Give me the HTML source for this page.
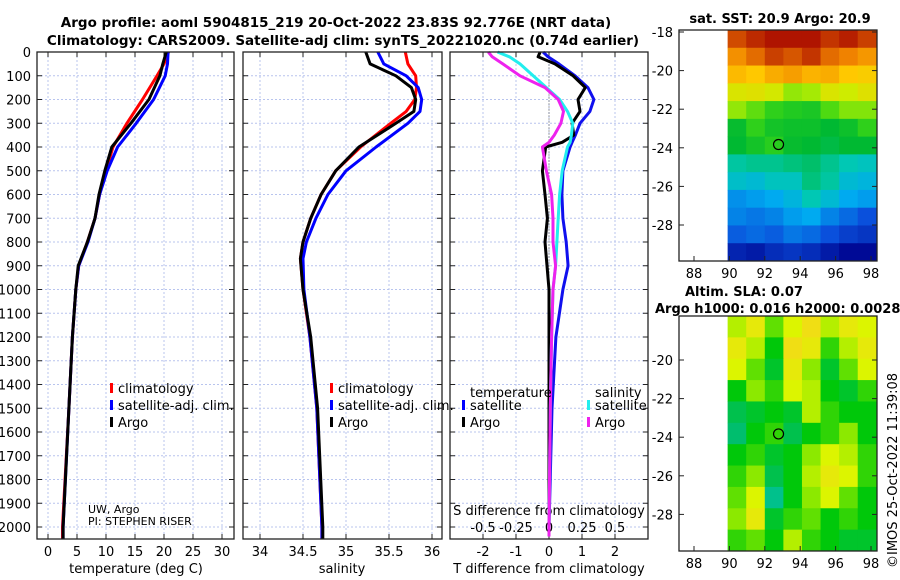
<!DOCTYPE html>
<html><head><meta charset="utf-8"><style>
html,body{margin:0;padding:0;background:#fff;}
svg{display:block;font-family:"DejaVu Sans","Liberation Sans",sans-serif;}
</style></head><body>
<svg id="c" width="900" height="580" viewBox="0 0 900 580">
<text x="336" y="27" font-size="13.5" font-weight="bold" text-anchor="middle">Argo profile: aoml 5904815_219 20-Oct-2022 23.83S 92.776E (NRT data)</text>
<text x="343" y="45" font-size="13.5" font-weight="bold" text-anchor="middle">Climatology: CARS2009. Satellite-adj clim: synTS_20221020.nc (0.74d earlier)</text>
<text x="780" y="23" font-size="13" font-weight="bold" text-anchor="middle">sat. SST: 20.9  Argo: 20.9</text>
<text x="685" y="296" font-size="13" font-weight="bold">Altim. SLA: 0.07</text>
<text x="655" y="313" font-size="13" font-weight="bold">Argo h1000: 0.016 h2000: 0.0028</text>
<text transform="translate(897,568) rotate(-90)" font-size="13">©IMOS 25-Oct-2022 11:39:08</text>
</svg>
<script>
// ---- data ----
const depthTicks=[0,100,200,300,400,500,600,700,800,900,1000,1100,1200,1300,1400,1500,1600,1700,1800,1900,2000];
const tTicks=[0,5,10,15,20,25,30];
const sTicks=[34,34.5,35,35.5,36];
const sTickLabels=["34","34.5","35","35.5","36"];
const dTTicks=[-2,-1,0,1,2];
const dSTicks=[-0.5,-0.25,0,0.25,0.5];
const dSTickLabels=["-0.5","-0.25","0","0.25","0.5"];

const tDepth=[0,50,100,200,300,400,500,600,700,800,900,1000,1200,1500,2000,2050];
const tClim=[20.8,20.0,18.8,16.3,13.6,11.2,10.0,8.9,8.1,6.8,5.3,4.8,4.2,3.6,2.5,2.5];
const tSat =[20.7,20.6,20.2,18.2,15.2,12.0,10.2,8.9,8.1,6.9,5.3,4.8,4.2,3.6,2.6,2.6];
const tArgo=[20.4,19.8,19.3,17.4,14.3,11.0,9.8,8.8,8.1,6.8,5.2,4.8,4.2,3.6,2.6,2.6];

const sDepth=[0,50,100,150,200,250,300,400,500,600,700,800,870,1000,1200,1500,2000,2050];
const sClim=[35.69,35.72,35.81,35.82,35.80,35.70,35.52,35.17,34.88,34.71,34.59,34.50,34.47,34.50,34.58,34.66,34.72,34.72];
const sSat =[35.37,35.44,35.70,35.84,35.88,35.86,35.72,35.35,35.00,34.79,34.65,34.54,34.50,34.51,34.58,34.66,34.72,34.72];
const sArgo=[35.23,35.28,35.58,35.76,35.81,35.79,35.58,35.15,34.88,34.71,34.59,34.50,34.47,34.50,34.59,34.67,34.73,34.73];

const dDepth=[0,20,50,100,150,200,250,300,350,380,400,500,600,700,800,900,1000,1200,1500,2000,2040];
const dTArgo=[-0.27,-0.33,0.18,0.73,1.10,0.88,0.94,0.70,0.75,0.40,-0.10,-0.20,-0.12,-0.05,-0.12,-0.06,0.0,0.0,0.0,0.0,0.0];
const dTSat =[-0.18,-0.03,0.30,0.79,1.18,1.36,1.24,0.94,0.80,0.70,0.64,0.42,0.39,0.42,0.52,0.58,0.42,0.21,0.09,0.0,0.0];
const dSSat =[-0.39,-0.30,-0.22,-0.12,-0.02,0.08,0.14,0.18,0.17,0.16,0.14,0.10,0.08,0.07,0.06,0.05,0.03,0.02,0.01,0.0,0.0];
const dSArgo=[-0.46,-0.43,-0.35,-0.22,-0.03,0.07,0.11,0.09,0.04,0.0,-0.05,-0.02,0.02,0.03,0.03,0.05,0.03,0.02,0.01,0.0,0.0];

const lonTicks=[88,90,92,94,96,98];
const sstLatTicks=[-18,-20,-22,-24,-26,-28];
const slaLatTicks=[-20,-22,-24,-26,-28];
const sstGrid=[
[24.5,24.8,25.2,25.6,25.0,24.7,24.9,24.6],
[23.8,24.2,24.6,24.4,24.7,24.2,24.0,23.7],
[23.2,23.0,23.4,23.6,23.3,23.4,23.0,22.9],
[22.3,22.4,22.2,21.7,21.8,22.3,22.1,22.4],
[21.7,21.4,21.0,20.8,20.7,21.3,21.6,21.6],
[20.4,21.0,20.6,20.5,20.5,20.3,20.5,21.0],
[20.3,20.6,20.9,20.4,20.3,20.2,20.3,20.3],
[19.7,19.8,19.8,19.9,20.0,19.8,19.6,19.5],
[19.4,19.3,19.5,19.5,19.9,19.7,19.3,19.2],
[18.8,18.9,19.0,19.2,19.6,19.3,19.0,18.9],
[18.7,18.6,18.7,18.9,19.0,18.7,18.5,18.3],
[18.4,18.5,18.4,18.6,18.5,18.3,18.1,18.0],
[17.8,17.7,17.9,18.0,17.9,17.7,17.5,17.4]];
const slaGrid=[
[0.10,0.12,0.08,0.11,0.13,0.10,0.12,0.11],
[0.12,0.10,0.06,0.13,0.12,0.07,0.10,0.12],
[0.11,0.08,0.05,0.12,0.09,0.05,0.08,0.11],
[0.06,0.09,0.07,0.11,0.10,0.06,0.05,0.07],
[0.04,0.05,0.06,0.05,0.10,0.07,0.06,0.06],
[0.03,0.06,0.07,0.04,0.06,0.07,0.09,0.06],
[0.06,0.07,0.05,0.06,0.09,0.11,0.10,0.07],
[0.07,0.09,0.04,0.06,0.10,0.12,0.11,0.07],
[0.08,0.11,0.02,0.06,0.09,0.11,0.08,0.06],
[0.09,0.12,0.05,0.07,0.08,0.06,0.07,0.06],
[0.07,0.08,0.06,0.10,0.07,0.06,0.05,0.05]];

// ---- drawing ----
const NS='http://www.w3.org/2000/svg', svg=document.getElementById('c');
function mk(t,a,p){const e=document.createElementNS(NS,t);for(const k in a)e.setAttribute(k,a[k]);(p||svg).appendChild(e);return e;}
const Y0=52,Y1=539;
const yD=d=>Y0+d*(527-52)/2000;
const panels=[
 {x0:37,x1:234,sx:v=>48+v*5.8},
 {x0:243,x1:442,sx:v=>346+(v-35)*86},
 {x0:450,x1:648,sx:v=>549+v*33}];
const sxS=v=>549+v*132;

function grid(p,xt,sx){
 xt.forEach(v=>{const l=mk('line',{x1:sx(v),x2:sx(v),y1:Y0,y2:Y1,stroke:'#b8c4ee','stroke-width':1,'stroke-dasharray':'2,2'});
 });
 depthTicks.forEach(d=>{const l=mk('line',{x1:p.x0,x2:p.x1,y1:yD(d),y2:yD(d),stroke:'#b8c4ee','stroke-width':1,'stroke-dasharray':'2,2'});
 
 [[p.x0,p.x0+5],[p.x1-5,p.x1]].forEach(s=>{const t=mk('line',{x1:s[0],x2:s[1],y1:yD(d),y2:yD(d),stroke:'#222'});
 });});
 xt.forEach(v=>{[[Y0,Y0+5],[Y1-5,Y1]].forEach(s=>{const t=mk('line',{x1:sx(v),x2:sx(v),y1:s[0],y2:s[1],stroke:'#222'});
 });});
}
function frame(p,name){const r=mk('rect',{x:p.x0,y:Y0,width:p.x1-p.x0,height:Y1-Y0,fill:'none',stroke:'#222','stroke-width':1.3});
 }
function line(xs,ds,sx,col,name,w){
 const pts=xs.map((v,i)=>sx(v).toFixed(1)+','+yD(ds[i]).toFixed(1)).join(' ');
 const l=mk('polyline',{points:pts,fill:'none',stroke:col,'stroke-width':w||3,'stroke-linejoin':'round'});
 }
function txt(x,y,s,o,name){const t=mk('text',Object.assign({x:x,y:y,'font-size':13},o||{}));t.textContent=s;
 return t;}

panels.forEach((p,i)=>grid(p,[tTicks,sTicks,dTTicks][i],p.sx));
depthTicks.forEach(d=>txt(31,yD(d)+5,String(d),{'text-anchor':'end'},'depth-tick-label'));
tTicks.forEach(v=>txt(panels[0].sx(v),556,String(v),{'text-anchor':'middle'},'temp-tick-label'));
sTicks.forEach((v,i)=>txt(panels[1].sx(v),556,sTickLabels[i],{'text-anchor':'middle'},'sal-tick-label'));
dTTicks.forEach(v=>txt(panels[2].sx(v),556,String(v),{'text-anchor':'middle'},'tdiff-tick-label'));
dSTicks.forEach((v,i)=>txt(sxS(v),532,dSTickLabels[i],{'text-anchor':'middle'},'sdiff-tick-label'));
txt(136,573,'temperature (deg C)',{'text-anchor':'middle'},'temp-axis-title');
txt(342,573,'salinity',{'text-anchor':'middle'},'sal-axis-title');
txt(549,573,'T difference from climatology',{'text-anchor':'middle'},'tdiff-axis-title');
txt(549,515,'S difference from climatology',{'text-anchor':'middle'},'sdiff-axis-title');
const z=mk('line',{x1:549,x2:549,y1:yD(40),y2:Y1,stroke:'#555','stroke-dasharray':'1,2'});


line(tClim,tDepth,panels[0].sx,'#f00','temp-climatology-line');
line(tSat,tDepth,panels[0].sx,'#0000ff','temp-satellite-line');
line(tArgo,tDepth,panels[0].sx,'#000','temp-argo-line');
line(sClim,sDepth,panels[1].sx,'#f00','sal-climatology-line');
line(sSat,sDepth,panels[1].sx,'#0000ff','sal-satellite-line');
line(sArgo,sDepth,panels[1].sx,'#000','sal-argo-line');
line(dTSat,dDepth,panels[2].sx,'#1010ee','tdiff-satellite-line');
line(dTArgo,dDepth,panels[2].sx,'#000','tdiff-argo-line');
line(dSSat,dDepth,sxS,'#22eeee','sdiff-satellite-line');
line(dSArgo,dDepth,sxS,'#ee22ee','sdiff-argo-line');
panels.forEach((p,i)=>frame(p,['temperature-panel','salinity-panel','difference-panel'][i]));

function legend(x,y,items,pre){items.forEach((it,i)=>{
 const r=mk('rect',{x:x,y:y+i*17-9,width:3,height:10,fill:it[1]});
 
 txt(x+8,y+i*17+1,it[0],{},pre+'-legend-label');});}
legend(110,392,[['climatology','#f00'],['satellite-adj. clim.','#00f'],['Argo','#000']],'temp');
legend(330,392,[['climatology','#f00'],['satellite-adj. clim.','#00f'],['Argo','#000']],'sal');
txt(470,397,'temperature',{},'tdiff-legend-header');
txt(595,397,'salinity',{},'sdiff-legend-header');
legend(462,409,[['satellite','#00f'],['Argo','#000']],'tdiff');
legend(587,409,[['satellite','#2ee'],['Argo','#e2e']],'sdiff');
txt(88,513,'UW, Argo',{'font-size':11},'pi-institution');
txt(88,525,'PI: STEPHEN RISER',{'font-size':11},'pi-name');

// ---- maps ----
function interp(st,v){
 if(v<=st[0][0])return 'rgb('+st[0][1].join(',')+')';
 for(let i=1;i<st.length;i++)if(v<=st[i][0]){const a=st[i-1],b=st[i],f=(v-a[0])/(b[0]-a[0]);
  return 'rgb('+a[1].map((c,k)=>Math.round(c+(b[1][k]-c)*f)).join(',')+')';}
 return 'rgb('+st[st.length-1][1].join(',')+')';}
const sstStops=[[17.5,[0,10,150]],[18.3,[10,80,220]],[19.0,[0,170,240]],[19.6,[0,200,180]],[20.3,[0,185,50]],[21.2,[60,215,20]],[22.0,[200,240,0]],[23.0,[255,200,0]],[24.0,[240,130,0]],[25.0,[175,20,0]]];
const slaStops=[[0,[0,200,200]],[0.03,[0,190,110]],[0.06,[0,200,10]],[0.085,[120,230,0]],[0.11,[220,245,0]],[0.14,[250,210,30]]];
const sstColor=v=>interp(sstStops,v), slaColor=v=>interp(slaStops,v);
function map(box,grid,col,latTicks,name){
 const lonX=lo=>694+(lo-88)*17.7, latY=la=>box.yTop+(box.latTop-la)*box.ppd;
 const g=mk('g',{});
 const rows=grid.length,cols=grid[0].length;
 const latBot=box.latTop-(box.y1-box.yTop)/box.ppd, latTop=box.latTop+(box.yTop-box.y0)/box.ppd;
 const cw=(lonX(98.3)-lonX(89.9))/cols, ch=(latY(latBot)-latY(latTop))/rows;
 grid.forEach((r,i)=>r.forEach((v,j)=>{const c=mk('rect',{x:(lonX(89.9)+j*cw).toFixed(2),y:(latY(latTop)+i*ch).toFixed(2),width:(cw+0.5).toFixed(2),height:(ch+0.5).toFixed(2),fill:col(v)},g);
  }));
 const f=mk('rect',{x:679,y:box.y0,width:198,height:box.y1-box.y0,fill:'none',stroke:'#222','stroke-width':1.3});
 
 latTicks.forEach(la=>{txt(673,latY(la)+5,String(la),{'text-anchor':'end'},'lat-tick-label');
  [[679,684],[872,877]].forEach(s=>{const t=mk('line',{x1:s[0],x2:s[1],y1:latY(la),y2:latY(la),stroke:'#222'});});});
 lonTicks.forEach(lo=>{txt(lonX(lo),box.y1+17,String(lo),{'text-anchor':'middle'},'lon-tick-label');
  const t=mk('line',{x1:lonX(lo),x2:lonX(lo),y1:box.y1-5,y2:box.y1,stroke:'#222'});});
 const m=mk('circle',{cx:lonX(92.776),cy:latY(-23.83),r:5,fill:'none',stroke:'#000','stroke-width':1.2});
 
}
map({y0:30,y1:261,yTop:32,latTop:-18,ppd:19.3},sstGrid,sstColor,sstLatTicks,'sst-map');
map({y0:316,y1:551,yTop:360,latTop:-20,ppd:19.3},slaGrid,slaColor,slaLatTicks,'sla-map');
</script>
</body></html>
